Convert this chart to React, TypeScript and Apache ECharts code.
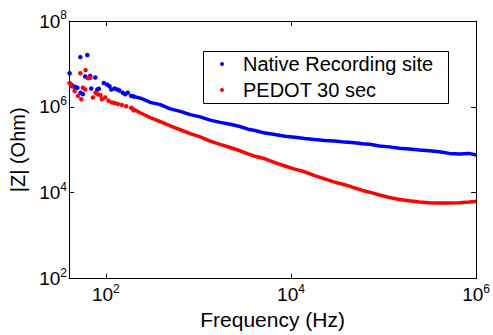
import { useEffect, useRef } from "react";
import * as echarts from "echarts";

// Shared frequency sweep (Hz) for the smooth part of both curves
const sweepFreq = [
  188, 237, 303, 388, 497, 636, 816, 1045, 1339, 1717, 2198, 2818, 3436, 4087,
  5233, 6700, 8590, 11000, 14090, 18070, 23120, 29650, 38000, 48650, 59300,
  70600, 90400, 115900, 148500, 190100, 243700, 312400, 400000, 512800, 657600,
  841400, 1000000,
];
// |Z| (Ohm), native recording site
const nativeZ = [
  1.8e6, 1.59e6, 1.27e6, 1.13e6, 9.0e5, 7.86e5, 6.59e5, 5.85e5, 4.92e5, 4.35e5,
  3.92e5, 3.48e5, 3.02e5, 2.82e5, 2.45e5, 2.26e5, 2.07e5, 1.96e5, 1.84e5,
  1.74e5, 1.65e5, 1.6e5, 1.51e5, 1.46e5, 1.39e5, 1.34e5, 1.23e5, 1.17e5,
  1.09e5, 1.04e5, 9.84e4, 9.49e4, 9.01e4, 8.25e4, 8.0e4, 8.25e4, 7.59e4,
];
// |Z| (Ohm), PEDOT 30 sec
const pedotZ = [
  9.48e5, 7.19e5, 5.64e5, 4.51e5, 3.6e5, 2.93e5, 2.38e5, 2.0e5, 1.6e5, 1.34e5,
  1.13e5, 9.49e4, 8.0e4, 7.06e4, 6.17e4, 5.01e4, 4.2e4, 3.54e4, 3.08e4, 2.5e4,
  2.1e4, 1.77e4, 1.54e4, 1.3e4, 1.13e4, 1.03e4, 8.83e3, 7.72e3, 6.96e3,
  6.47e3, 6.05e3, 5.83e3, 5.74e3, 5.74e3, 5.83e3, 6.05e3, 6.27e3,
];

// Noisy low-frequency points
const nativeLowFreq = [
  40.6, 42.5, 44.2, 46.9, 49.2, 53.0, 53.4, 56.5, 59.9, 63.1, 67.9, 69.6, 76.9,
  80.8, 84.1, 95.1, 103.5, 109.6, 114.4, 124.1, 132.7, 140.4, 152.4, 161.7,
  172.6, 187.7, 200,
];
const nativeLowZ = [
  6.05e6, 3.3e6, 3.03e6, 2.88e6, 2.78e6, 1.44e7, 2.14e6, 1.98e6, 5.1e6, 1.62e7,
  5.26e6, 2.68e6, 4.84e6, 2.54e6, 2.64e6, 3.6e6, 3.3e6, 3.03e6, 2.54e6, 2.68e6,
  2.54e6, 2.41e6, 2.14e6, 1.96e6, 2.14e6, 1.8e6, 1.74e6,
];
const pedotLowFreq = [
  40.6, 42.5, 46.0, 50.0, 53.0, 54.3, 56.5, 59.9, 60.4, 64.0, 67.9, 72.4, 77.4,
  82.0, 87.7, 90.6, 98.5, 107, 116, 124.1, 134.6, 148.6, 165.8, 187.7, 200,
];
const pedotLowZ = [
  3.6e6, 3.03e6, 2.34e6, 1.8e6, 6.05e6, 1.51e6, 2.78e6, 2.54e6, 7.18e6, 4.67e6,
  4.74e6, 1.65e6, 2.14e6, 1.96e6, 1.86e6, 1.51e6, 1.65e6, 1.39e6, 1.27e6,
  1.23e6, 1.17e6, 1.11e6, 1.03e6, 9.48e5, 8.28e5,
];

const xTicks = [1e2, 1e4, 1e6];
const yTicks = [1e2, 1e4, 1e6, 1e8];

const NATIVE = "Native Recording site";
const PEDOT = "PEDOT 30 sec";
const BLUE = "#0000ff";
const RED = "#ff0000";
const FONT = "'Liberation Sans', Arial, Helvetica, sans-serif";

const richLabel = {
  b: { fontSize: 19, fontFamily: FONT, color: "#000", lineHeight: 24 },
  e: {
    fontSize: 12,
    fontFamily: FONT,
    color: "#000",
    lineHeight: 12,
    verticalAlign: "top",
  },
};

const supFormatter = (v: number) =>
  `{b|10}{e|${Math.round(Math.log10(v))}}`;

export default function App() {
  const ref = useRef<HTMLDivElement>(null);
  useEffect(() => {
    if (!ref.current) return;
    const chart = echarts.init(ref.current, null, { renderer: "svg" });
    const axisLine = { show: true, lineStyle: { color: "#000", width: 1 } };
    const tickStyle = { color: "#000", width: 1 };
    const xBase = {
      type: "log" as const,
      logBase: 10,
      min: 40,
      max: 1e6,
      splitLine: { show: false },
      axisLine,
      axisTick: { show: true, inside: true, length: 5, lineStyle: tickStyle, customValues: xTicks },
    };
    const yBase = {
      type: "log" as const,
      logBase: 10,
      min: 1e2,
      max: 1e8,
      splitLine: { show: false },
      axisLine,
      axisTick: { show: true, inside: true, length: 5, lineStyle: tickStyle, customValues: yTicks },
    };
    chart.setOption({
      animation: false,
      backgroundColor: "#fff",
      grid: { left: 69, right: 16, top: 21, bottom: 48, containLabel: false },
      xAxis: [
        {
          ...xBase,
          position: "bottom",
          axisLabel: {
            margin: 4,
            customValues: xTicks,
            formatter: supFormatter,
            rich: richLabel,
          },
          name: "Frequency (Hz)",
          nameLocation: "middle",
          nameGap: 22,
          nameTextStyle: { fontSize: 21, fontFamily: FONT, color: "#000" },
        },
        { ...xBase, position: "top", axisLabel: { show: false } },
      ],
      yAxis: [
        {
          ...yBase,
          position: "left",
          axisLabel: {
            margin: 2,
            customValues: yTicks,
            formatter: supFormatter,
            rich: richLabel,
          },
          name: "|Z| (Ohm)",
          nameLocation: "middle",
          nameGap: 36,
          nameRotate: 90,
          nameTextStyle: { fontSize: 20, fontFamily: FONT, color: "#000" },
        },
        { ...yBase, position: "right", axisLabel: { show: false } },
      ],
      graphic: [
        {
          type: "rect",
          z: 100,
          shape: { x: 203.5, y: 51.5, width: 245, height: 52 },
          style: { fill: "#fff", stroke: "#000", lineWidth: 1 },
        },
        {
          type: "circle",
          z: 101,
          shape: { cx: 222, cy: 64, r: 2 },
          style: { fill: BLUE },
        },
        {
          type: "circle",
          z: 101,
          shape: { cx: 222, cy: 90, r: 2 },
          style: { fill: RED },
        },
        {
          type: "text",
          z: 101,
          x: 243,
          y: 64,
          style: {
            text: NATIVE,
            fill: "#000",
            fontSize: 20,
            fontFamily: FONT,
            align: "left",
            verticalAlign: "middle",
          },
        },
        {
          type: "text",
          z: 101,
          x: 243,
          y: 90,
          style: {
            text: PEDOT,
            fill: "#000",
            fontSize: 20,
            fontFamily: FONT,
            align: "left",
            verticalAlign: "middle",
          },
        },
      ],
      series: [
        {
          type: "scatter",
          name: NATIVE,
          symbol: "circle",
          symbolSize: 4.5,
          itemStyle: { color: BLUE, opacity: 1 },
          data: nativeLowFreq.map((f, i) => [f, nativeLowZ[i]]),
        },
        {
          type: "scatter",
          name: PEDOT,
          symbol: "circle",
          symbolSize: 4.5,
          itemStyle: { color: RED, opacity: 1 },
          data: pedotLowFreq.map((f, i) => [f, pedotLowZ[i]]),
        },
        {
          type: "line",
          name: NATIVE,
          showSymbol: false,
          symbol: "none",
          itemStyle: { color: BLUE },
          lineStyle: { color: BLUE, width: 3.5 },
          data: sweepFreq.map((f, i) => [f, nativeZ[i]]),
        },
        {
          type: "line",
          name: PEDOT,
          showSymbol: false,
          symbol: "none",
          itemStyle: { color: RED },
          lineStyle: { color: RED, width: 3.5 },
          data: sweepFreq.map((f, i) => [f, pedotZ[i]]),
        },
      ],
    });
    return () => chart.dispose();
  }, []);
  return (
    <div
      ref={ref}
      style={{ position: "fixed", left: 0, top: 0, width: 493, height: 335, background: "#fff" }}
    />
  );
}
